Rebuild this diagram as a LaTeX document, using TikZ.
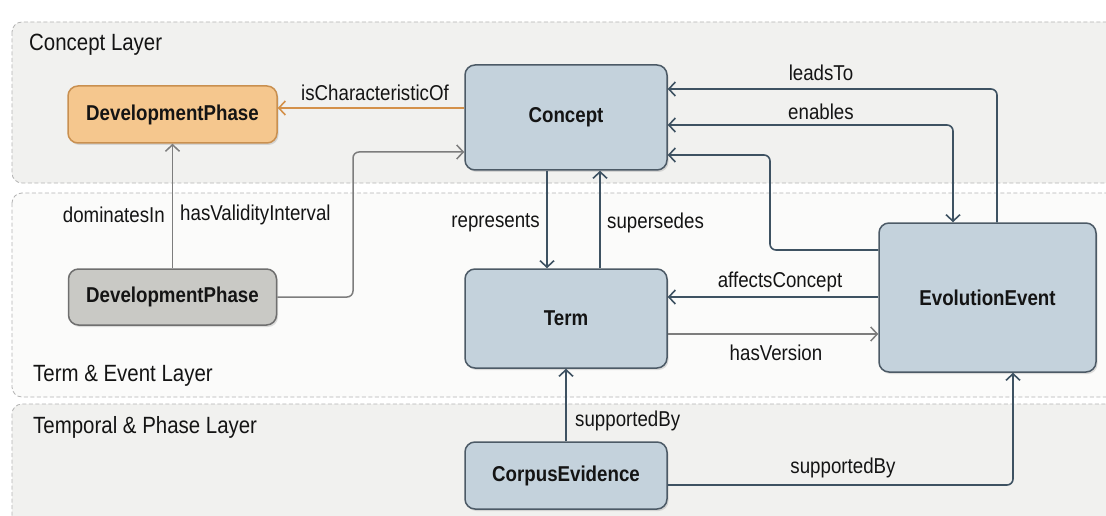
\documentclass[tikz,border=0pt]{standalone}
\usepackage{fontspec}
\setmainfont{Liberation Sans}[FakeStretch=0.87]
\usetikzlibrary{arrows.meta,shadows}
\definecolor{nodefill}{HTML}{C4D2DC}
\definecolor{nodeborder}{HTML}{4C5A66}
\definecolor{darkline}{HTML}{3E5262}
\definecolor{grayline}{HTML}{7D7D7D}
\definecolor{orfill}{HTML}{F5C78E}
\definecolor{orborder}{HTML}{C99050}
\definecolor{orline}{HTML}{D4914A}
\definecolor{gnfill}{HTML}{C9C9C5}
\definecolor{gnborder}{HTML}{6F6F6F}
\definecolor{layerA}{HTML}{F1F1EF}
\definecolor{layerB}{HTML}{FBFBFA}
\definecolor{layerline}{HTML}{B4B4B4}
\definecolor{txt}{HTML}{141414}
\begin{document}
\begin{tikzpicture}[x=1pt,y=-1pt,
  >={Straight Barb[length=6.5pt,width=14pt]},
  layerbox/.style={draw=layerline, dash pattern=on 4pt off 2.5pt, rounded corners=10pt, line width=0.8pt},
  layerlabel/.style={anchor=west, text=txt, font=\fontsize{23.5}{27}\selectfont, inner sep=0pt},
  basenode/.style={rounded corners=10pt, line width=1.5pt, inner sep=0pt, text=txt,
    font=\bfseries\fontsize{21.5}{24}\selectfont,
    drop shadow={opacity=0.25, shadow xshift=1.5pt, shadow yshift=-2pt}},
  bluenode/.style={basenode, draw=nodeborder, fill=nodefill},
  orangenode/.style={basenode, draw=orborder, fill=orfill},
  graynode/.style={basenode, draw=gnborder, fill=gnfill},
  darkarrow/.style={->, draw=darkline, line width=1.6pt, rounded corners=6pt},
  grayarrow/.style={->, draw=grayline, line width=1.5pt, rounded corners=6pt},
  orarrow/.style={->, draw=orline, line width=1.6pt},
  elabel/.style={text=txt, font=\fontsize{21.5}{24}\selectfont, inner sep=0pt}
]
\useasboundingbox (0,0) rectangle (1106,516);
\fill[white] (0,0) rectangle (1106,516);

% layers
\draw[layerbox, fill=layerA] (12,22) rectangle (1125,183);
\draw[layerbox, fill=layerB] (12,193) rectangle (1125,397);
\draw[layerbox, fill=layerA] (12,404) rectangle (1125,535);
\node[layerlabel] (lc) at (29,45) {Concept Layer};
\node[layerlabel] (lt) at (33,376) {Term \& Event Layer};
\node[layerlabel] (lp) at (33,427) {Temporal \& Phase Layer};

% nodes
\node[bluenode, minimum width=202pt, minimum height=105pt] (concept) at (566,117.5) {Concept};
\node[bluenode, minimum width=202pt, minimum height=99pt] (term) at (566,318.5) {Term};
\node[bluenode, minimum width=217pt, minimum height=149pt] (ee) at (987.5,297.5) {EvolutionEvent};
\node[bluenode, minimum width=202pt, minimum height=67pt] (ce) at (566,475.5) {CorpusEvidence};
\node[orangenode, minimum width=209pt, minimum height=57pt] (dpo) at (172.5,114.5) {DevelopmentPhase};
\node[graynode, minimum width=208pt, minimum height=56pt] (dpg) at (172.5,297) {DevelopmentPhase};

% connectors
\draw[orarrow] (concept.west |- 0,108) -- (dpo.east |- 0,108);
\draw[grayarrow] (dpg.north) -- (dpo.south);
\draw[grayarrow] (dpg.east) -- (353,297) -- (353,152) -- (concept.west |- 0,152);
\draw[darkarrow] (concept.south -| 547,0) -- (term.north -| 547,0);
\draw[darkarrow] (term.north -| 600,0) -- (concept.south -| 600,0);
\draw[darkarrow] (ee.north -| 997,0) |- (concept.east |- 0,89);
\draw[darkarrow, <->] (concept.east |- 0,125) -| (ee.north -| 953,0);
\draw[darkarrow] (ee.west |- 0,250) -- (770,250) -- (770,155) -- (concept.east |- 0,155);
\draw[darkarrow] (ee.west |- 0,297) -- (term.east |- 0,297);
\draw[grayarrow] (term.east |- 0,334) -- (ee.west |- 0,334);
\draw[darkarrow] (ce.north) -- (term.south);
\draw[darkarrow] (ce.east |- 0,485) -| (ee.south -| 1013,0);

% labels
\node[elabel] (l1) at (375,93) {isCharacteristicOf};
\node[elabel, anchor=east] (l2) at (165,215) {dominatesIn};
\node[elabel, anchor=west] (l3) at (180,215) {hasValidityInterval};
\node[elabel, anchor=east] (l4) at (540,223) {represents};
\node[elabel, anchor=west] (l5) at (607,223) {supersedes};
\node[elabel] (l6) at (821,73) {leadsTo};
\node[elabel] (l7) at (821,112) {enables};
\node[elabel] (l8) at (780,282) {affectsConcept};
\node[elabel] (l9) at (776,353) {hasVersion};
\node[elabel, anchor=west] (l10) at (575,421) {supportedBy};
\node[elabel] (l11) at (843,468) {supportedBy};
\end{tikzpicture}
\end{document}
